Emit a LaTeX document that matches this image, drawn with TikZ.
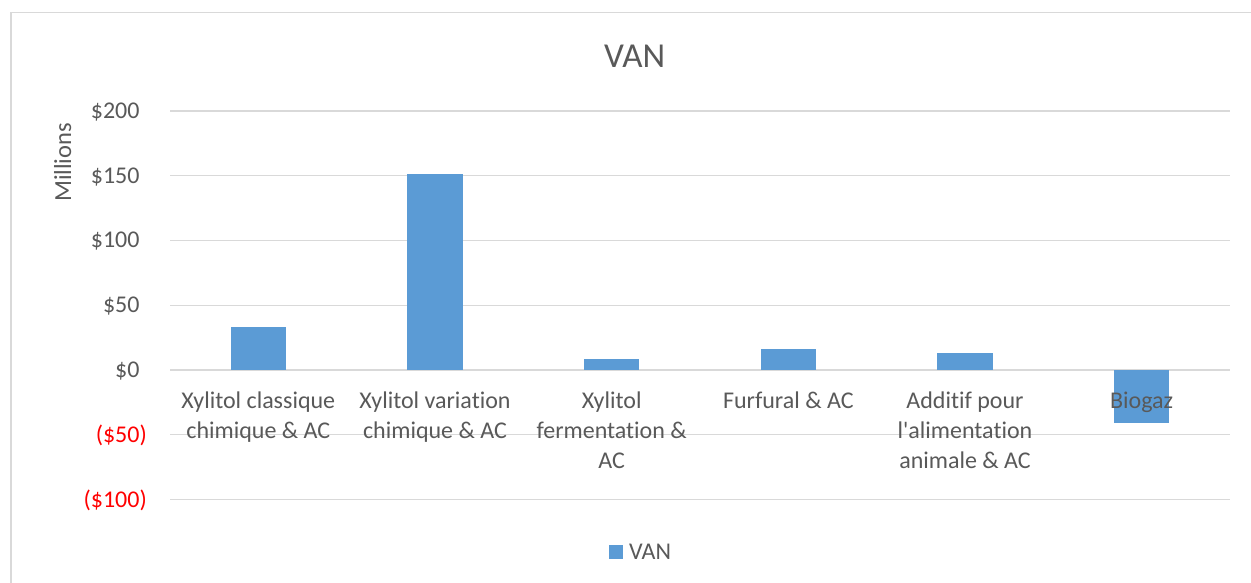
\documentclass[tikz,border=0pt]{standalone}
\usepackage{fontspec}
\setmainfont{Carlito}[Ligatures={NoCommon}]
\definecolor{barblue}{HTML}{5B9BD5}
\definecolor{txtgray}{HTML}{595959}
\definecolor{gridgray}{HTML}{D9D9D9}
\definecolor{negred}{HTML}{FF0000}
\begin{document}
\begin{tikzpicture}[x=1pt,y=-1pt,
  grid/.style={draw=gridgray,line width=1.3pt},
  bar/.style={fill=barblue},
  ticklbl/.style={anchor=base east,inner sep=0pt,font=\fontsize{24}{29}\selectfont,text=txtgray},
  catlbl/.style={anchor=base,inner sep=0pt,font=\fontsize{24}{30.3}\selectfont,text=txtgray},
  plain/.style={inner sep=0pt,text=txtgray},
]
\useasboundingbox (0,0) rectangle (1251,582);
\fill[white] (0,0) rectangle (1251,582);
% chart frame (left and top edges)
\draw[gridgray,line width=1.5pt] (11,600) -- (11,12.5) -- (1260,12.5);
% horizontal gridlines, 50 per step
\foreach \v in {200,150,...,-100}
  \draw[grid] (170,{370-1.2953*\v}) -- (1230,{370-1.2953*\v});
% bars
\foreach \c/\v in {0/33,1/151.4,2/8.5,3/16.2,4/13.1,5/-41.2}
  \fill[bar] ({258.33+176.67*\c-27.8},370) rectangle ({258.33+176.67*\c+27.8},{370-1.2953*\v});
% title
\node[plain,anchor=base,font=\fontsize{35}{42}\selectfont] (title) at (634.7,67.7) {VAN};
% axis title
\node[plain,rotate=90,anchor=base,font=\fontsize{24.5}{30}\selectfont] (ytitle) at (71,162.5) {Millions};
% value axis labels
\node[ticklbl] (t200) at (147,{370-1.2953*200+7.5}) {\$200\phantom{)}};
\node[ticklbl] (t150) at (147,{370-1.2953*150+7.5}) {\$150\phantom{)}};
\node[ticklbl] (t100) at (147,{370-1.2953*100+7.5}) {\$100\phantom{)}};
\node[ticklbl] (t50) at (147,{370-1.2953*50+7.5}) {\$50\phantom{)}};
\node[ticklbl] (t0) at (147,{370+7.5}) {\$0\phantom{)}};
\node[ticklbl,text=negred] (tm50) at (147,{370+1.2953*50+7.5}) {(\$50)};
\node[ticklbl,text=negred] (tm100) at (147,{370+1.2953*100+7.5}) {(\$100)};
% category labels
\node[catlbl] (c1) at (258.33,408) {\begin{tabular}[t]{@{}c@{}}Xylitol classique\\chimique \& AC\end{tabular}};
\node[catlbl] (c2) at (435,408) {\begin{tabular}[t]{@{}c@{}}Xylitol variation\\chimique \& AC\end{tabular}};
\node[catlbl] (c3) at (611.67,408) {\begin{tabular}[t]{@{}c@{}}Xylitol\\fermentation \&\\AC\end{tabular}};
\node[catlbl] (c4) at (788.33,408) {\begin{tabular}[t]{@{}c@{}}Furfural \& AC\end{tabular}};
\node[catlbl] (c5) at (965,408) {\begin{tabular}[t]{@{}c@{}}Additif pour\\l\textquotesingle alimentation\\animale \& AC\end{tabular}};
\node[catlbl] (c6) at (1141.67,408) {\begin{tabular}[t]{@{}c@{}}Biogaz\end{tabular}};
% legend
\fill[bar] (609,545) rectangle (623,558.5);
\node[plain,anchor=base west,font=\fontsize{24}{29}\selectfont] (leg) at (629,559) {VAN};
\end{tikzpicture}
\end{document}
